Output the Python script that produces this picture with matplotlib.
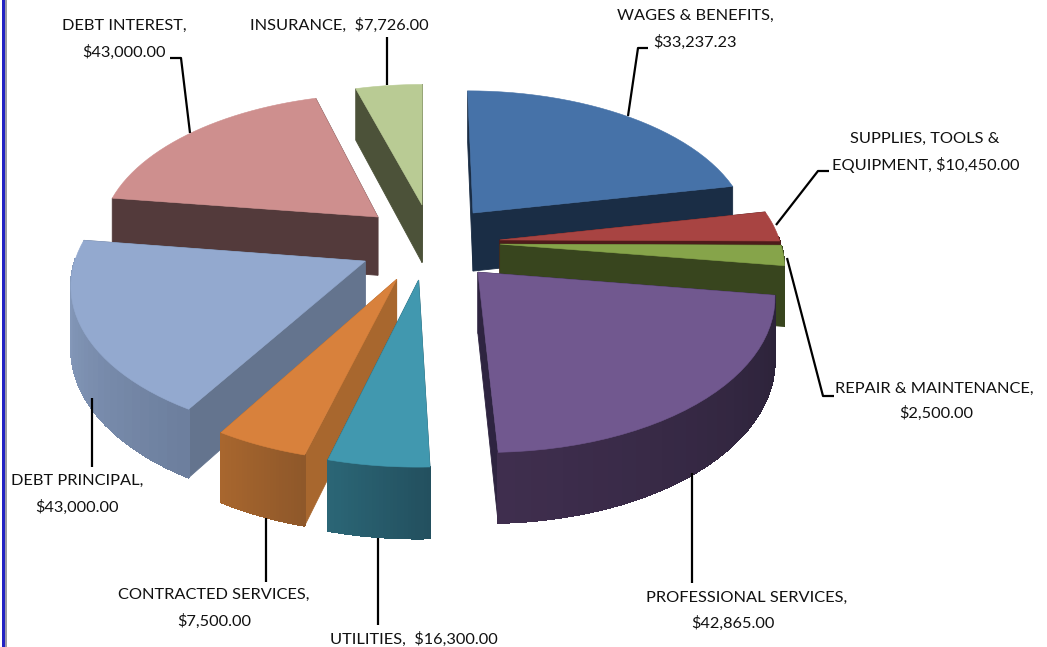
"""
Exploded 3D pie of yearly expenses, drawn with polygons since matplotlib has no 3D pie
"""
import numpy as np
import matplotlib
matplotlib.use("Agg")
import matplotlib.pyplot as plt
from matplotlib.patches import Polygon, Rectangle
from matplotlib.colors import to_rgb

plt.rcParams['font.family'] = ['Lato', 'DejaVu Sans']

categories = ["WAGES & BENEFITS", "SUPPLIES, TOOLS & EQUIPMENT", "REPAIR & MAINTENANCE",
              "PROFESSIONAL SERVICES", "UTILITIES", "CONTRACTED SERVICES",
              "DEBT PRINCIPAL", "DEBT INTEREST", "INSURANCE"]
amounts = [33237.23, 10450.00, 2500.00, 42865.00, 16300.00, 7500.00, 43000.00, 43000.00, 7726.00]
# percent of the circle as the slices are drawn in the picture (not the same as the amounts)
drawn_share = [21.8, 3.3, 2.2, 22.1, 4.72, 4.44, 18.6, 18.33, 4.44]
slice_radius = [1.0, 1.0, 1.0, 1.02, 1.04, 1.02, 1.02, 1.0, 1.0]

# slices were dragged out by hand, so each one has its own offset (radius units)
drag_x = [0.176, 0.268, 0.268, 0.184, -0.022, -0.098, -0.210, -0.172, -0.011]
drag_y = [0.260, 0.069, 0.040, -0.148, -0.199, -0.195, -0.075, 0.231, 0.319]

top_colors = ["#4672A8", "#A84442", "#86A44A", "#71588F", "#4198AF", "#D8813C", "#93A9CF", "#CE8F8E", "#B9CB94"]
cut_colors = ["#1A2D45", "#4E1B1A", "#38451E", "#2E2440", "#235260", "#A8672E", "#64748E", "#533A3B", "#4C5239"]
rim_start = ["#1A2D45", "#4E1B1A", "#38451E", "#2B2238", "#23505F", "#8F582A", "#6D7F9E", "#533A3B", "#4C5239"]
rim_end = ["#1A2D45", "#4E1B1A", "#38451E", "#3F2E4E", "#2B6676", "#A8662E", "#8DA2C4", "#533A3B", "#4C5239"]

# text, x, y of every label line
label_lines = [("WAGES & BENEFITS,", 695, 16), ("$33,237.23", 695, 42),
               ("SUPPLIES, TOOLS &", 925, 139), ("EQUIPMENT, $10,450.00", 926, 165),
               ("REPAIR & MAINTENANCE,", 934, 389), ("$2,500.00", 936, 413),
               ("PROFESSIONAL SERVICES,", 747, 598), ("$42,865.00", 733, 623),
               ("UTILITIES,  $16,300.00", 414, 639),
               ("CONTRACTED SERVICES,", 214, 595), ("$7,500.00", 214, 621),
               ("DEBT PRINCIPAL,", 77, 481), ("$43,000.00", 77, 507),
               ("DEBT INTEREST,", 124, 26), ("$43,000.00", 124, 52),
               ("INSURANCE,  $7,726.00", 339, 25)]
leaders = [[(648, 48), (638, 48), (628, 116)],
           [(829, 171), (818, 171), (776, 225)],
           [(787, 258), (823, 396), (834, 396)],
           [(692, 473), (692, 583)],
           [(378, 538), (378, 625)],
           [(266, 518), (266, 582)],
           [(92, 398), (92, 467)],
           [(170, 58), (181, 58), (190, 133)],
           [(387, 37), (387, 85)]]

CX, CY = 425, 250
RX, RY = 282, 147
PERSP = 0.13
DEPTH = 60
START_ANGLE = 90


def project(x, y, z=0.0):
    # back of the pie is smaller than the front
    s = 1 / (1 + PERSP * y)
    return CX + RX * x * s, CY - RY * y * s + z * DEPTH * s


def mix(c1, c2, t):
    return tuple((1 - t) * a + t * b for a, b in zip(to_rgb(c1), to_rgb(c2)))


fig = plt.figure(figsize=(10.47, 6.47), dpi=100)
ax = fig.add_axes([0, 0, 1, 1])
ax.set_xlim(0, 1047)
ax.set_ylim(647, 0)
ax.axis('off')

shares = np.array(drawn_share, dtype=float)
edges = START_ANGLE - np.concatenate([[0], np.cumsum(shares / shares.sum() * 360)])

# back slices first
for i in np.argsort(-np.array(drag_y), kind='stable'):
    ang = np.radians(np.linspace(edges[i], edges[i + 1], 30))
    xs = drag_x[i] + slice_radius[i] * np.cos(ang)
    ys = drag_y[i] + slice_radius[i] * np.sin(ang)
    walls = []
    # the two cut faces
    for ex, ey in [(xs[0], ys[0]), (xs[-1], ys[-1])]:
        quad = [project(drag_x[i], drag_y[i]), project(ex, ey), project(ex, ey, 1), project(drag_x[i], drag_y[i], 1)]
        walls.append(((drag_y[i] + ey) / 2, quad, cut_colors[i], True))
    # outer rim, in narrow strips for the shading. only the part facing the viewer
    for k in range(len(ang) - 1):
        if np.sin((ang[k] + ang[k + 1]) / 2) > 0.02:
            continue
        quad = [project(xs[k], ys[k]), project(xs[k + 1], ys[k + 1]),
                project(xs[k + 1], ys[k + 1], 1), project(xs[k], ys[k], 1)]
        walls.append(((ys[k] + ys[k + 1]) / 2, quad, mix(rim_start[i], rim_end[i], k / (len(ang) - 2)), False))
    for _, quad, col, smooth in sorted(walls, key=lambda w: -w[0]):
        # antialiased strips leave seams between them
        ax.add_patch(Polygon(quad, closed=True, facecolor=col, edgecolor=col, lw=0.6, antialiased=smooth))
    top = [project(drag_x[i], drag_y[i])] + [project(a, b) for a, b in zip(xs, ys)]
    ax.add_patch(Polygon(top, closed=True, facecolor=top_colors[i], edgecolor=top_colors[i], lw=0.4))

for line in leaders:
    ax.plot([p[0] for p in line], [p[1] for p in line], color='black', lw=1.6, solid_capstyle='butt')

for txt, x, y in label_lines:
    ax.text(x, y, txt, ha='center', va='center', fontsize=11.8, color='#111111')

# window edge at the left
ax.add_patch(Rectangle((2, 0), 3, 647, facecolor='#2222C4', edgecolor='none'))
ax.add_patch(Rectangle((5, 0), 2, 647, facecolor='#9A9AA8', edgecolor='none'))

fig.savefig("out.png", dpi=100)
